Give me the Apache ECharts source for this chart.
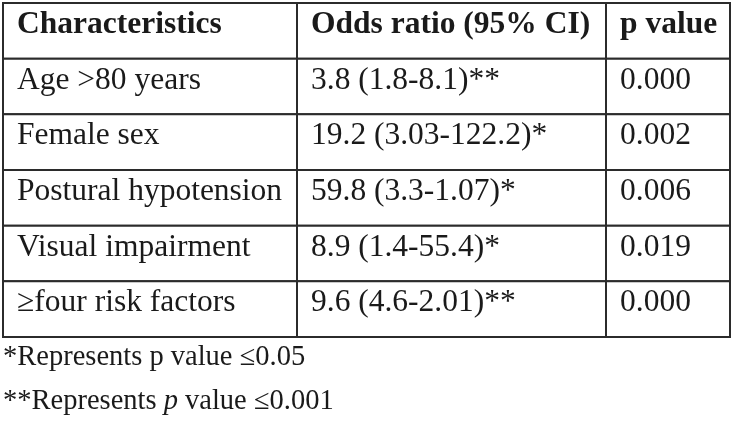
<!DOCTYPE html>
<html>
<head>
<meta charset="utf-8">
<script src="https://cdn.jsdelivr.net/npm/echarts@6/dist/echarts.min.js"></script>
<style>
html,body{margin:0;padding:0;background:#fff;}
#chart{width:737px;height:431px;}
</style>
</head>
<body>
<div id="chart"></div>
<script>
// ---- data ----
const headers = ['Characteristics', 'Odds ratio (95% CI)', 'p value'];
const characteristics = ['Age >80 years', 'Female sex', 'Postural hypotension', 'Visual impairment', '\u2265four risk factors'];
const oddsRatios = ['3.8 (1.8-8.1)**', '19.2 (3.03-122.2)*', '59.8 (3.3-1.07)*', '8.9 (1.4-55.4)*', '9.6 (4.6-2.01)**'];
const pValues = ['0.000', '0.002', '0.006', '0.019', '0.000'];
const footnote1 = '*Represents p value \u22640.05';
const footnote2 = ['**Represents ', 'p', ' value \u22640.001'];

// ---- layout ----
const colEdges = [0, 294, 603, 727];
const rowLabels = ['h'].concat(characteristics.map((_, i) => 'r' + i));
const FONT = 'Liberation Serif';
const FS = 31.5;
const FN = 28.5;

const cells = [];
headers.forEach((h, c) => cells.push([c, 0, h, 1]));
characteristics.forEach((t, r) => {
  cells.push([0, r + 1, t, 0]);
  cells.push([1, r + 1, oddsRatios[r], 0]);
  cells.push([2, r + 1, pValues[r], 0]);
});

const chart = echarts.init(document.getElementById('chart'), null, {renderer: 'canvas'});
chart.setOption({
  backgroundColor: '#ffffff',
  animation: false,
  title: [
    {text: footnote1, left: 3, top: 342, padding: 0,
      textStyle: {fontFamily: FONT, fontSize: FN, fontWeight: 'normal', color: '#1a1a1a', lineHeight: 32}},
    {text: '{n|' + footnote2[0] + '}{i|' + footnote2[1] + '}{n|' + footnote2[2] + '}', left: 3, top: 386, padding: 0,
      textStyle: {fontFamily: FONT, fontSize: FN, fontWeight: 'normal', color: '#1a1a1a', lineHeight: 32,
        rich: {
          n: {fontFamily: FONT, fontSize: FN, color: '#1a1a1a', lineHeight: 32},
          i: {fontFamily: FONT, fontSize: FN, fontStyle: 'italic', color: '#1a1a1a', lineHeight: 32}
        }}}
  ],
  grid: {left: 3, right: 7, top: 3, bottom: 94, containLabel: false},
  xAxis: {type: 'value', min: 0, max: 727, show: false},
  yAxis: {type: 'category', data: rowLabels, inverse: true, show: false},
  series: [{
    type: 'custom',
    data: cells,
    renderItem: function (params, api) {
      const c = api.value(0), r = api.value(1);
      const item = cells[params.dataIndex];
      const p0 = api.coord([colEdges[c], r]);
      const p1 = api.coord([colEdges[c + 1], r]);
      const h = api.size([0, 1])[1];
      const x = p0[0], w = p1[0] - p0[0];
      const yTop = p0[1] - h / 2;
      return {
        type: 'group',
        children: [
          {type: 'rect', shape: {x: x, y: yTop, width: w, height: h},
            style: {fill: '#ffffff', stroke: '#2b2b2b', lineWidth: 2}},
          {type: 'text', style: {
            x: x + 14, y: p0[1] - 6, text: item[2],
            font: (item[3] ? 'bold ' : '') + FS + 'px "' + FONT + '"',
            fill: '#1a1a1a', textAlign: 'left', textVerticalAlign: 'middle', verticalAlign: 'middle'
          }}
        ]
      };
    }
  }]
});
</script>
</body>
</html>
